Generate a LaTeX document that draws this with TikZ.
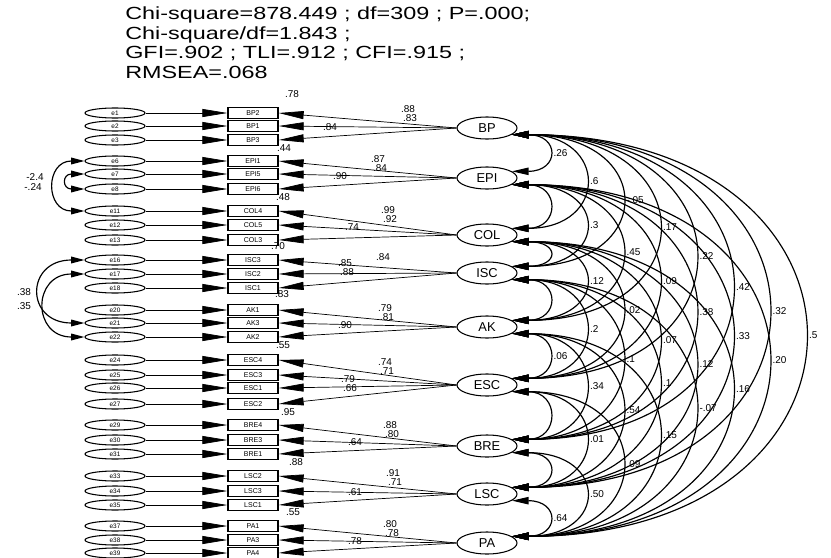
\documentclass[tikz,border=0pt]{standalone}
\usepackage{fontspec}
\setmainfont{Liberation Sans}
\usetikzlibrary{arrows.meta, positioning, shapes.geometric, calc}

\begin{document}
\begin{tikzpicture}[
    x=0.03cm, y=-0.03cm,
    errnode/.style={
        draw,
        ellipse,
        line width=0.9pt,
        minimum width=1.8cm,
        minimum height=0.3cm,
        inner sep=0pt,
        font=\fontsize{5.5}{5.5}\selectfont
    },
    itembox/.style={
        draw,
        rectangle,
        line width=1.1pt,
        minimum width=1.5cm,
        minimum height=0.33cm,
        inner sep=0pt,
        font=\fontsize{6}{6}\selectfont
    },
    latent/.style={
        draw,
        ellipse,
        line width=0.9pt,
        minimum width=1.8cm,
        minimum height=0.66cm,
        inner sep=0pt,
        font=\fontsize{11}{11}\selectfont
    },
    arr/.style={-{Triangle[length=0.75cm, width=0.24cm]}, line width=0.6pt},
    covarr/.style={{Triangle[length=0.5cm, width=0.22cm]}-{Triangle[length=0.5cm, width=0.22cm]}, line width=1pt},
    errcov/.style={{Triangle[length=0.4cm, width=0.2cm]}-{Triangle[length=0.4cm, width=0.2cm]}, line width=1pt},
    lbl/.style={font=\fontsize{8.5}{8.5}\selectfont, inner sep=0.3pt}
]
\useasboundingbox (0,0) rectangle (831,558);

% FIT INDICES
\node[anchor=north west, align=left, inner sep=0pt, xscale=1.33,
font=\fontsize{15}{16.6}\selectfont] (fit) at (125,7)
{Chi-square=878.449 ; df=309 ; P=.000;\\
Chi-square/df=1.843 ;\\
GFI=.902 ; TLI=.912 ; CFI=.915 ;\\
RMSEA=.068};

% LATENT FACTORS
\node[latent] (BP) at (487,128) {BP};
\node[latent] (EPI) at (487,178) {EPI};
\node[latent] (COL) at (487,235) {COL};
\node[latent] (ISC) at (487,273) {ISC};
\node[latent] (AK) at (487,327) {AK};
\node[latent] (ESC) at (487,385) {ESC};
\node[latent] (BRE) at (487,446) {BRE};
\node[latent] (LSC) at (487,494) {LSC};
\node[latent] (PA) at (487,543) {PA};

% ERRORS, ITEMS, LOADINGS
\foreach \e/\it/\yy/\lat in {
    e1/BP2/113/BP, e2/BP1/126/BP, e3/BP3/140/BP,
    e6/EPI1/161/EPI, e7/EPI5/174/EPI, e8/EPI6/189/EPI,
    e11/COL4/211/COL, e12/COL5/225/COL, e13/COL3/240/COL,
    e16/ISC3/260/ISC, e17/ISC2/274/ISC, e18/ISC1/288/ISC,
    e20/AK1/310/AK, e21/AK3/323/AK, e22/AK2/337/AK,
    e24/ESC4/360/ESC, e25/ESC3/375/ESC, e26/ESC1/388/ESC, e27/ESC2/404/ESC,
    e29/BRE4/425/BRE, e30/BRE3/440/BRE, e31/BRE1/454/BRE,
    e33/LSC2/476/LSC, e34/LSC3/491/LSC, e35/LSC1/505/LSC,
    e37/PA1/526/PA, e38/PA3/540/PA, e39/PA4/553/PA}{
    \node[errnode] (\e) at (115,\yy) {\e};
    \node[itembox] (\it) at (253,\yy) {\it};
    \draw[arr] (\e) -- (\it);
    \draw[arr] (\lat.west) -- (\it.east);
}

% LOADING LABELS
\foreach \lx/\ly/\val in {
    408/109/.88, 410/118/.83, 330/127/.84,
    378/159/.87, 380/168/.84, 340/176/.90,
    388/210/.99, 390/219/.92, 352/227/.74,
    383/257/.84, 345/263/.85, 347/272/.88,
    385/308/.79, 387/317/.81, 345/325/.90,
    385/362/.74, 387/371/.71, 348/379/.79, 350/388/.66,
    390/425/.88, 392/434/.80, 355/442/.64,
    393/473/.91, 395/482/.71, 355/492/.61,
    390/524/.80, 392/533/.78, 355/541/.78}
    \node[lbl] at (\lx,\ly) {\val};

% R-SQUARED
\foreach \lx/\ly/\val in {
    292/94/.78, 284/148/.44, 283/197/.48, 278/246/.70, 282/294/.83,
    283/345/.55, 288/412/.95, 296/462/.88, 293/512/.55}
    \node[lbl] at (\lx,\ly) {\val};

% ERROR COVARIANCES
\draw[errcov] (e6.west) .. controls (45,161) and (45,211) .. (e11.west);
\draw[errcov] (e7.west) .. controls (62,174) and (62,189) .. (e8.west);
\draw[errcov] (e16.west) .. controls (25,260) and (25,323) .. (e21.west);
\draw[errcov] (e17.west) .. controls (32,274) and (32,337) .. (e22.west);
\node[lbl] at (35,177) {-2.4};
\node[lbl] at (33,187) {-.24};
\node[lbl] at (24,292) {.38};
\node[lbl] at (24,306) {.35};

% FACTOR CORRELATIONS
\foreach \a/\b/\k/\val in {
    BP/EPI/1/.26, AK/ESC/1/.06, LSC/PA/1/.64,
    BP/COL/2/.6, EPI/ISC/2/.3, COL/AK/2/.12, ISC/ESC/2/.2,
    AK/BRE/2/.34, ESC/LSC/2/.01, BRE/PA/2/.50,
    BP/ISC/3/-.05, EPI/AK/3/.45, COL/ESC/3/.02, ISC/BRE/3/.1,
    AK/LSC/3/.54, ESC/PA/3/.09,
    BP/AK/4/.17, EPI/ESC/4/.09, COL/BRE/4/.07, ISC/LSC/4/.1, AK/PA/4/.15,
    BP/ESC/5/.22, EPI/BRE/5/.38, COL/LSC/5/.12, ISC/PA/5/-.07,
    BP/BRE/6/.42, EPI/LSC/6/.33, COL/PA/6/.16,
    BP/LSC/7/.32, EPI/PA/7/.20,
    BP/PA/8/.5}
    \draw[covarr] (\a.-15)
    .. controls ($(\a.-15)+({(36+(\k-1)*36.5)/0.75},0)$)
    and ($(\b.15)+({(36+(\k-1)*36.5)/0.75},0)$) .. (\b.15)
    node[lbl, pos=0.5, anchor=west, xshift=4pt] {\val};

\foreach \a/\b in {EPI/COL, COL/ISC, ISC/AK, ESC/BRE, BRE/LSC}
    \draw[covarr] (\a.-15)
    .. controls ($(\a.-15)+(48,0)$) and ($(\b.15)+(48,0)$) .. (\b.15);

\end{tikzpicture}
\end{document}
